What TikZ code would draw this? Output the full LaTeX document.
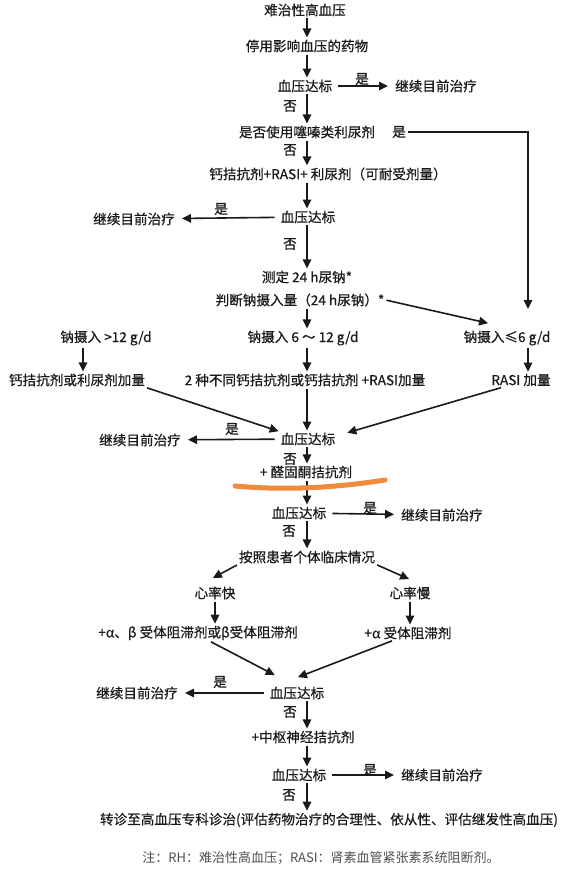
\documentclass[tikz,border=0pt]{standalone}
\usepackage{fontspec}
\setmainfont{Noto Sans CJK SC}
\usetikzlibrary{arrows.meta}
\definecolor{ink}{HTML}{1A1A1A}
\definecolor{marker}{HTML}{F08A3C}
\definecolor{notegray}{HTML}{505050}
\tikzset{
  box/.style={inner sep=1pt, text=ink,
    font=\fontsize{13.6}{15}\selectfont\addfontfeatures{FakeBold=0.5}},
  arr/.style={draw=ink, line width=1.6pt, shorten <=1pt, shorten >=1pt,
    -{Triangle[length=9pt,width=8.5pt]}},
  yesarr/.style={arr, shorten <=5pt, shorten >=6pt},
}
\begin{document}
\begin{tikzpicture}[x=1pt,y=-1pt]
  \fill[white] (0,0) rectangle (576,873);
  \useasboundingbox (0,0) rectangle (576,873);
  \coordinate (colL) at (83,0);
  \coordinate (colM) at (307,0);
  \coordinate (colR) at (528,0);

  \node[box] (rh) at (305,10) {难治性高血压};
  \node[box] (stop) at (307,46) {停用影响血压的药物};
  \node[box] (bp1) at (305,86) {血压达标};
  \node[box] (go1) at (436,86) {继续目前治疗};
  \node[box] (yes1) at (362,79) {是};
  \node[box] (no1) at (290,106) {否};
  \node[box] (thz) at (307,132) {是否使用噻嗪类利尿剂};
  \node[box] (thzyes) at (399,132) {是};
  \node[box] (no2) at (290,150) {否};
  \node[box] (ccb) at (328,174) {钙拮抗剂+RASI+ 利尿剂（可耐受剂量）};
  \node[box] (bp2) at (308,217) {血压达标};
  \node[box] (go2) at (134,219) {继续目前治疗};
  \node[box] (yes2) at (221,209) {是};
  \node[box] (no3) at (290,244) {否};
  \node[box] (meas) at (307,277) {测定 24 h尿钠*};
  \node[box] (judge) at (300,300) {判断钠摄入量（24 h尿钠）*};
  \coordinate (rtip) at (528,310);

  \node[box] (sodhi) at (106,338) {钠摄入 >12 g/d};
  \node[box] (sodmid) at (303,338) {钠摄入 6 ～ 12 g/d};
  \node[box] (sodlow) at (507,338) {钠摄入≤6 g/d};
  \node[box] (dhi) at (77,380) {钙拮抗剂或利尿剂加量};
  \node[box] (dmid) at (305,380) {2 种不同钙拮抗剂或钙拮抗剂 +RASI加量};
  \node[box] (dlow) at (521,380) {RASI 加量};

  \node[box] (bp3) at (308,439) {血压达标};
  \node[box] (go3) at (140,440) {继续目前治疗};
  \node[box] (yes3) at (232,429) {是};
  \node[box] (no4) at (290,459) {否};
  \node[box] (ald) at (306,472) {+ 醛固酮拮抗剂};
  \node[box] (bp4) at (299,513) {血压达标};
  \node[box] (go4) at (442,515) {继续目前治疗};
  \node[box] (yes4) at (370,508) {是};
  \node[box] (no5) at (289,531) {否};
  \node[box] (clin) at (307,557) {按照患者个体临床情况};
  \node[box] (hrf) at (215,593) {心率快};
  \node[box] (hrs) at (410,593) {心率慢};
  \node[box] (abf) at (198,633) {+α、β 受体阻滞剂或β受体阻滞剂};
  \node[box] (ab) at (408,633) {+α 受体阻滞剂};

  \node[box] (bp5) at (297,693) {血压达标};
  \node[box] (go5) at (137,693) {继续目前治疗};
  \node[box] (yes5) at (220,682) {是};
  \node[box] (no6) at (290,712) {否};
  \node[box] (cns) at (303,737) {+中枢神经拮抗剂};
  \node[box] (bp6) at (299,775) {血压达标};
  \node[box] (go6) at (442,775) {继续目前治疗};
  \node[box] (yes6) at (370,770) {是};
  \node[box] (no7) at (289,795) {否};
  \node[box] (ref) at (329,820) {转诊至高血压专科诊治(评估药物治疗的合理性、依从性、评估继发性高血压)};
  \node[inner sep=1pt, text=notegray, font=\fontsize{13}{15}\selectfont] (note) at (321,858)
    {注：RH：难治性高血压；RASI：肾素血管紧张素系统阻断剂。};

  \draw[arr] (rh.south -| colM) -- (stop.north -| colM);
  \draw[arr] (stop.south -| colM) -- (bp1.north -| colM);
  \draw[yesarr] (bp1) -- (go1);
  \draw[arr] (bp1.south -| colM) -- (thz.north -| colM);
  \draw[arr] (thzyes.east) -- (thzyes.east -| colR) -- (rtip);
  \draw[arr] (thz.south -| colM) -- (ccb.north -| colM);
  \draw[arr] (ccb.south -| colM) -- (bp2.north -| colM);
  \draw[yesarr] (bp2) -- (go2);
  \draw[arr] (bp2.south -| colM) -- (meas.north -| colM);
  \draw[arr] (judge.south -| colM) -- (sodmid.north -| colM);
  \draw[arr] (judge.east) -- ([xshift=-18pt,yshift=6pt]sodlow.north);

  \draw[arr] (sodhi.south -| colL) -- (dhi.north -| colL);
  \draw[arr] (sodmid.south -| colM) -- (dmid.north -| colM);
  \draw[arr] (sodlow.south -| colR) -- (dlow.north -| colR);
  \draw[arr] (dhi.south east) -- (bp3.north west);
  \draw[arr] (dmid.south -| colM) -- (bp3.north -| colM);
  \draw[arr] ([xshift=-19pt]dlow.south) -- ([xshift=10pt,yshift=6pt]bp3.east);
  \draw[yesarr] (bp3) -- (go3);
  \draw[arr] (bp3.south -| colM) -- (ald.north -| colM);
  \draw[arr] (ald.south -| colM) -- (bp4.north -| colM);
  \draw[yesarr] (bp4) -- (go4);
  \draw[arr] (bp4.south -| colM) -- (clin.north -| colM);
  \draw[arr] (clin.south west) -- ([xshift=-3pt,yshift=7pt]hrf.north);
  \draw[arr] (clin.south east) -- ([yshift=6pt]hrs.north);
  \draw[arr] (hrf.south) -- (hrf.south |- abf.north);
  \draw[arr] (hrs.south) -- (hrs.south |- ab.north);
  \draw[arr] ([xshift=12pt]abf.south) -- ([xshift=7pt,yshift=10pt]bp5.north west);
  \draw[arr] ([xshift=-15pt]ab.south) -- ([yshift=8pt]bp5.north);
  \draw[yesarr] (bp5) -- (go5);
  \draw[arr] (bp5.south -| colM) -- (cns.north -| colM);
  \draw[arr] (cns.south -| colM) -- (bp6.north -| colM);
  \draw[yesarr] (bp6) -- (go6);
  \draw[arr] (bp6.south -| colM) -- (ref.north -| colM);

  \draw[marker, line width=5pt, line cap=round]
    (235,486) .. controls (290,491) and (340,487) .. (385,480);
\end{tikzpicture}
\end{document}
